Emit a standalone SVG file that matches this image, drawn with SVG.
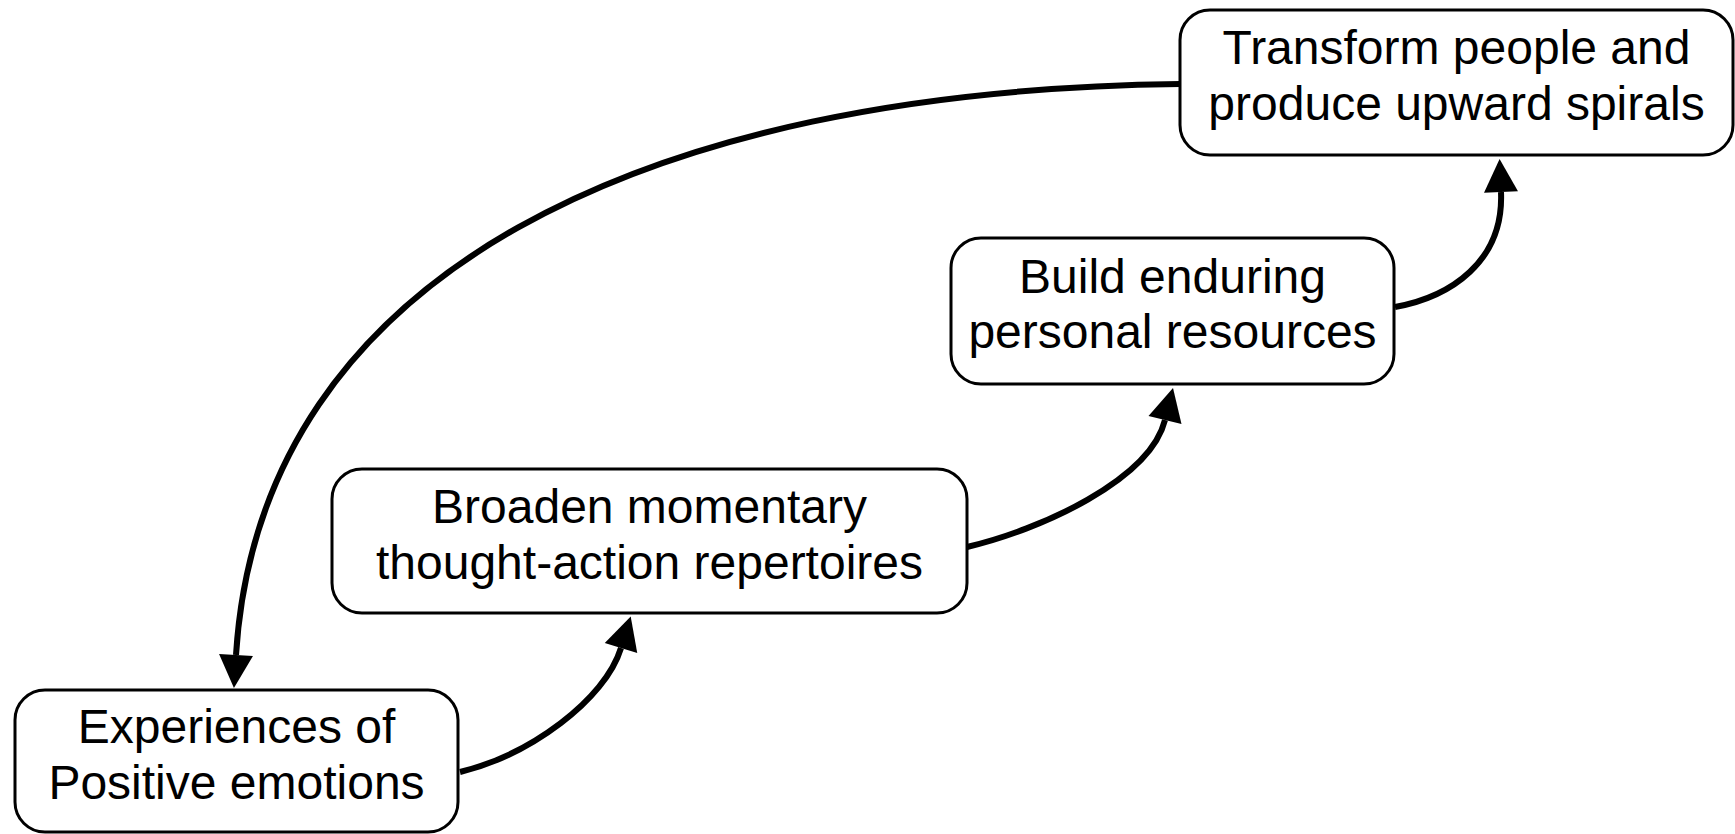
<svg xmlns="http://www.w3.org/2000/svg" width="1735" height="834" viewBox="0 0 1735 834">
<style>
.box{fill:#fff;stroke:#000;stroke-width:3}
.lbl{font-family:"Liberation Sans",Arial,sans-serif;font-size:48px;fill:#000;text-anchor:middle}
.conn{fill:none;stroke:#000;stroke-width:6;marker-end:url(#ah)}
</style>
<defs>
<marker id="ah" markerUnits="userSpaceOnUse" markerWidth="40" markerHeight="40" viewBox="-2 -20 40 40" refX="0" refY="0" orient="auto">
<path d="M0,-17 L33,0 L0,17 Z" fill="#000"/>
</marker>
</defs>
<rect width="1735" height="834" fill="#fff"/>
<g id="connectors">
<path class="conn" d="M1180,84 C650,90 260,270 236,655"/>
<path class="conn" d="M460,772 C530,755 605,700 621,648"/>
<path class="conn" d="M967,547 C1040,530 1150,480 1165,420"/>
<path class="conn" d="M1395,307 C1450,297 1504,262 1501,192"/>
</g>
<g id="node-experiences">
<rect class="box" x="15" y="690" width="443" height="142" rx="30"/>
<text class="lbl" x="236.5" y="743">Experiences of</text>
<text class="lbl" x="236.5" y="799">Positive emotions</text>
</g>
<g id="node-broaden">
<rect class="box" x="332" y="469" width="635" height="144" rx="30"/>
<text class="lbl" x="649.5" y="523">Broaden momentary</text>
<text class="lbl" x="649.5" y="579">thought-action repertoires</text>
</g>
<g id="node-build">
<rect class="box" x="951" y="238" width="443" height="146" rx="30"/>
<text class="lbl" x="1172.5" y="293">Build enduring</text>
<text class="lbl" x="1172.5" y="348">personal resources</text>
</g>
<g id="node-transform">
<rect class="box" x="1180" y="10" width="553" height="145" rx="30"/>
<text class="lbl" x="1456.5" y="64">Transform people and</text>
<text class="lbl" x="1456.5" y="120">produce upward spirals</text>
</g>
</svg>
